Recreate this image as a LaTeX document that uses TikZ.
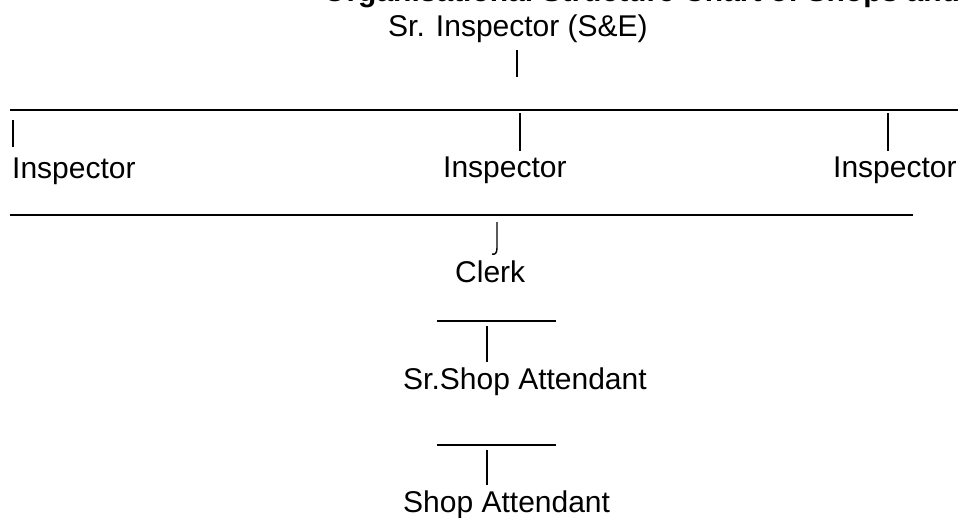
\documentclass[tikz,border=0pt]{standalone}
\usepackage{fontspec}
\setmainfont{Liberation Sans}
\usepackage{tikz}

\begin{document}
\begin{tikzpicture}[x=1pt,y=-1pt,post/.style={font=\fontsize{30}{36}\selectfont,anchor=base west,inner sep=0pt},head/.style={post,font=\bfseries\fontsize{30}{36}\selectfont},rule/.style={line width=1.6pt},tick/.style={line width=1.8pt}]
\useasboundingbox (0,0) rectangle (960,517);
\clip (0,0) rectangle (960,517);
% posts
\node[head] (title) at (323,1) {Organisational Structure Chart of Shops and Establishments};
\node[post] (srins) at (388,36) {Sr. Inspector (S\&E)};
\node[post] (insA) at (12,178) {Inspector};
\node[post] (insB) at (443,177) {Inspector};
\node[post] (insC) at (833,177) {Inspector};
\node[post] (clerk) at (455,282) {Clerk};
\node[post] (srshop) at (403,389) {Sr.Shop Attendant};
\node[post] (shop) at (403,512) {Shop Attendant};
% bars and ticks
\coordinate (topL) at (10,110); \coordinate (topR) at (958,110);
\coordinate (midL) at (10,215); \coordinate (midR) at (913,215);
\coordinate (lowL) at (437,321); \coordinate (lowR) at (556,321);
\coordinate (botL) at (437,445); \coordinate (botR) at (556,445);
\coordinate (t0a) at (517,50); \coordinate (t0b) at (517,77);
\coordinate (tAa) at (13,120); \coordinate (tAb) at (13,147);
\coordinate (tBa) at (520,113); \coordinate (tBb) at (520,151);
\coordinate (tCa) at (888,113); \coordinate (tCb) at (888,151);
\coordinate (hookA) at (497,222); \coordinate (hookB) at (492,254);
\coordinate (t2a) at (487,326); \coordinate (t2b) at (487,362);
\coordinate (t3a) at (487,450); \coordinate (t3b) at (487,485);
\draw[rule] (topL) -- (topR);
\draw[rule] (midL) -- (midR);
\draw[rule] (lowL) -- (lowR);
\draw[rule] (botL) -- (botR);
\draw[tick] (t0a) -- (t0b);
\draw[tick] (tAa) -- (tAb);
\draw[tick] (tBa) -- (tBb);
\draw[tick] (tCa) -- (tCb);
\draw[line width=1.4pt] (hookA) -- (497,248) .. controls (497,253) and (495,255) .. (hookB);
\draw[tick] (t2a) -- (t2b);
\draw[tick] (t3a) -- (t3b);
\end{tikzpicture}
\end{document}
